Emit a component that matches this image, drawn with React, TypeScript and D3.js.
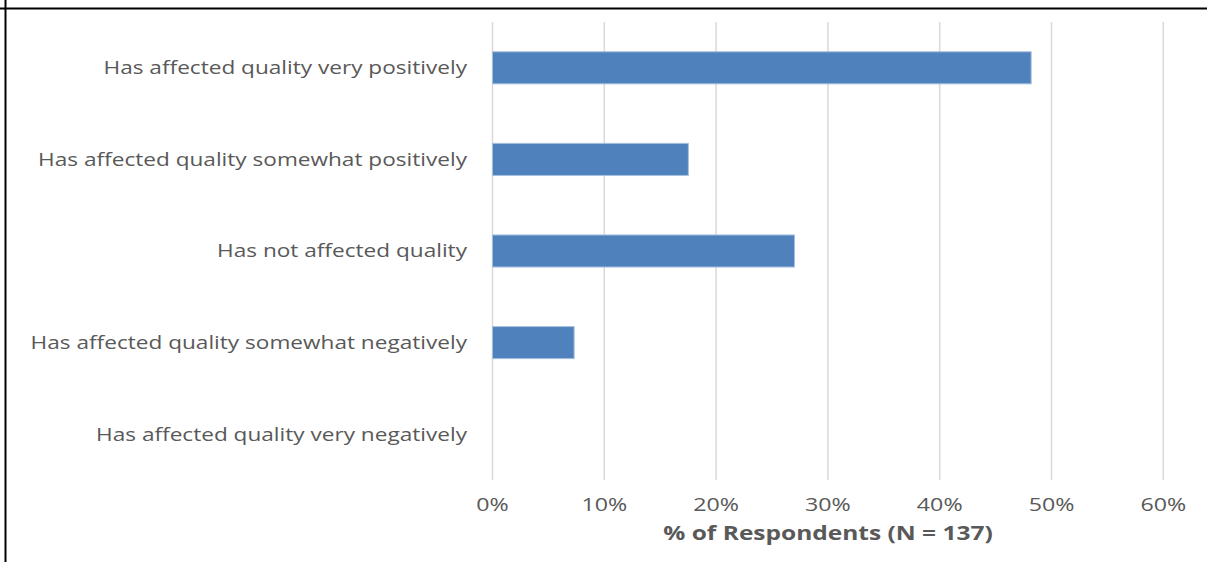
import React from "react";
import * as d3 from "d3";

const categories = [
  "Has affected quality very positively",
  "Has affected quality somewhat positively",
  "Has not affected quality",
  "Has affected quality somewhat negatively",
  "Has affected quality very negatively",
];
const values = [0.4818, 0.1752, 0.2701, 0.073, 0];
const xTicks = [0, 0.1, 0.2, 0.3, 0.4, 0.5, 0.6];
const axisTitle = "% of Respondents (N = 137)";

const W = 1207;
const H = 562;
const left = 492.5;
const right = 1163.3;
const top = 22;
const bottom = 480;
const font = "'Open Sans', sans-serif";

function SText(props: {
  x: number;
  y: number;
  sx: number;
  anchor: string;
  size: number;
  weight?: string;
  children: React.ReactNode;
}) {
  return (
    <g transform={`translate(${props.x},${props.y}) scale(${props.sx},1)`}>
      <text
        x={0}
        y={0}
        dy="0.35em"
        textAnchor={props.anchor}
        fill="#595959"
        fontFamily={font}
        fontSize={props.size}
        fontWeight={props.weight || "normal"}
      >
        {props.children}
      </text>
    </g>
  );
}

export default function App() {
  const x = d3.scaleLinear().domain([0, 0.6]).range([left, right]);
  const y = d3.scaleBand().domain(categories).range([top, bottom]).paddingInner(0.65).paddingOuter(0.325);
  return (
    <svg width={W} height={H} style={{ position: "absolute", left: 0, top: 0, background: "#fff" }}>
      <rect x={0} y={0} width={W} height={H} fill="#fff" />
      <line x1={0} x2={W} y1={8.5} y2={8.5} stroke="#000" strokeWidth={2} />
      <line x1={5.5} x2={5.5} y1={0} y2={H} stroke="#000" strokeWidth={2} />
      {xTicks.map((t) => (
        <line key={t} x1={x(t)} x2={x(t)} y1={top} y2={bottom} stroke="#D9D9D9" strokeWidth={1.5} />
      ))}
      {categories.map((c, i) => (
        <rect
          key={c}
          x={x(0)}
          y={y(c)!}
          width={x(values[i]) - x(0)}
          height={y.bandwidth()}
          fill="#4F81BD"
          stroke={values[i] > 0 ? "#A7BFDE" : "none"}
          strokeWidth={1}
        />
      ))}
      {categories.map((c) => (
        <SText key={c} x={467} y={y(c)! + y.bandwidth() / 2} sx={1.256} anchor="end" size={18}>
          {c}
        </SText>
      ))}
      {xTicks.map((t) => (
        <SText key={t} x={x(t)} y={505} sx={1.29} anchor="middle" size={18}>
          {d3.format(".0%")(t)}
        </SText>
      ))}
      <SText x={828} y={533} sx={1.29} anchor="middle" size={19} weight="bold">
        {axisTitle}
      </SText>
    </svg>
  );
}
